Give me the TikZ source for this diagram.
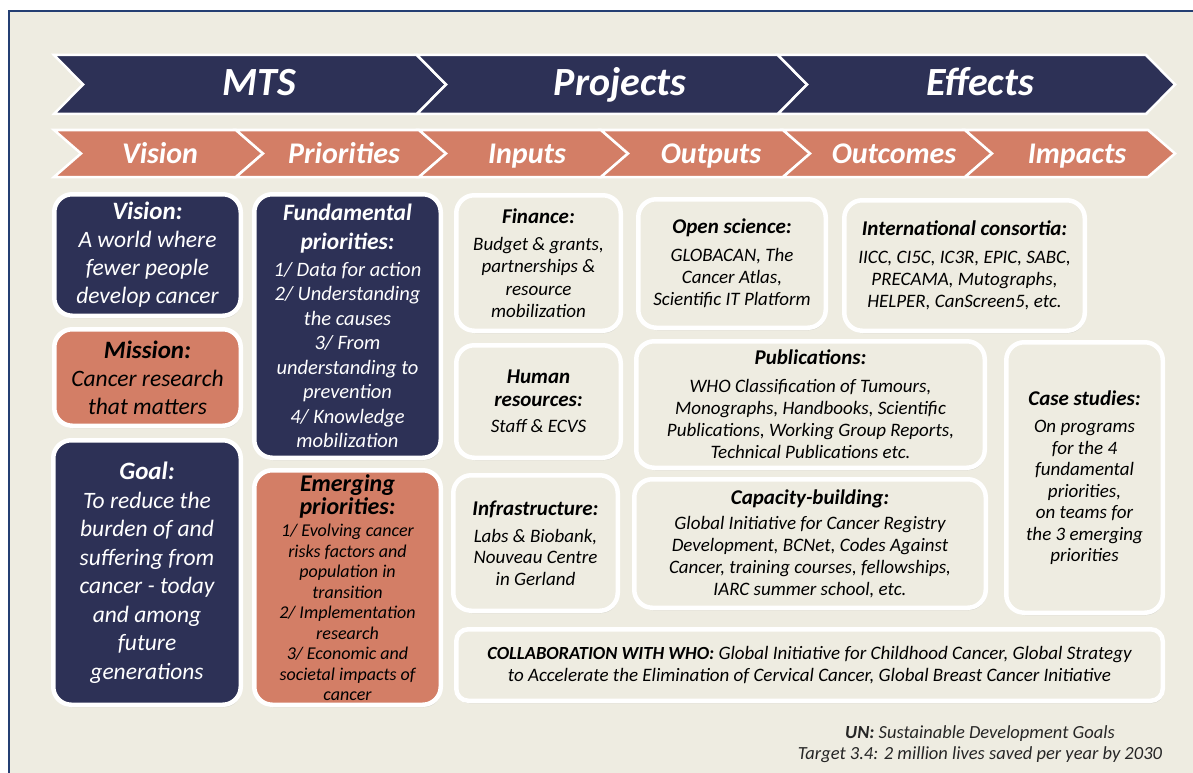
\documentclass[tikz,border=0pt]{standalone}
\usepackage{fontspec}
\setmainfont{Carlito}
\usetikzlibrary{shadows}
\definecolor{navy}{HTML}{2D3156}
\definecolor{coral}{HTML}{D37E66}
\definecolor{beige}{HTML}{EEECE1}
\definecolor{framecol}{HTML}{243F73}
\newcommand\myfs[2]{\fontsize{#1}{#2}\selectfont}
\newcommand\mychev[6]{%
  \filldraw[fill=#6, draw=white, line width=2.5pt, line join=miter]
    (#1,#4) -- (#2,#4) -- ({#2+#3},{(#4+#5)/2}) -- (#2,#5) -- (#1,#5) -- ({#1+#3},{(#4+#5)/2}) -- cycle;}
\tikzset{
  dtitle/.style={text=white, anchor=base, font=\bfseries\itshape\myfs{40}{44}},
  otitle/.style={text=white, anchor=base, font=\bfseries\itshape\myfs{30}{34}},
  box/.style={rounded corners=18pt, draw=white, line width=4.5pt, align=center, inner sep=0pt,
    drop shadow={opacity=0.22, shadow xshift=1pt, shadow yshift=-2.5pt}},
  navybox/.style={box, fill=navy, text=white},
  coralbox/.style={box, fill=coral, text=black},
  plainbox/.style={box, fill=beige, text=black}
}
\begin{document}
\begin{tikzpicture}[x=1pt,y=-1pt]
\useasboundingbox (0,0) rectangle (1193,773);
\fill[white] (0,0) rectangle (1193,773);
\fill[beige] (9,11) rectangle (1193,773);
\draw[framecol, line width=2pt] (9,773) -- (9,11) -- (1193,11);

% dark chevrons
\mychev{54}{417}{29}{55}{114}{navy}
\mychev{417}{778}{29}{55}{114}{navy}
\mychev{778}{1146}{29}{55}{114}{navy}
\node[dtitle] (mts) at (259,96) {MTS};
\node[dtitle] (projects) at (620,96) {Projects};
\node[dtitle] (effects) at (980,96) {Effects};

% coral chevrons
\mychev{54}{236}{27}{130}{177}{coral}
\mychev{236}{419}{27}{130}{177}{coral}
\mychev{419}{601}{27}{130}{177}{coral}
\mychev{601}{783}{27}{130}{177}{coral}
\mychev{783}{965}{27}{130}{177}{coral}
\mychev{965}{1148}{27}{130}{177}{coral}
\node[otitle] (tvision) at (160,163) {Vision};
\node[otitle] (tprio) at (344,163) {Priorities};
\node[otitle] (tinputs) at (527,163) {Inputs};
\node[otitle] (toutputs) at (711,163) {Outputs};
\node[otitle] (toutcomes) at (894,163) {Outcomes};
\node[otitle] (timpacts) at (1077,163) {Impacts};

% left column
\node[navybox, minimum width=186.5, minimum height=121.5, font=\itshape\myfs{23.5}{28}] (vision) at (147.5,255)
  {{\bfseries\myfs{25}{28}Vision:}\\ A world where\\ fewer people\\ develop cancer};
\node[coralbox, minimum width=186.5, minimum height=96.5, font=\itshape\myfs{23.5}{28}] (mission) at (147.5,377.5)
  {{\bfseries\myfs{25}{28}Mission:}\\ Cancer research\\ that matters};
\node[navybox, minimum width=187.5, minimum height=264.5, font=\itshape\myfs{23.5}{28.5}] (goal) at (147,572.5)
  {{\bfseries\myfs{25}{28.5}Goal:}\\ To reduce the\\ burden of and\\ suffering from\\ cancer - today\\ and among\\ future\\ generations};
\node[navybox, minimum width=186.5, minimum height=263.5, font=\itshape\myfs{20.5}{24.5}] (fund) at (347.5,326)
  {{\bfseries\myfs{23.5}{24.5}Fundamental}\\[5pt] {\bfseries\myfs{23.5}{24.5}priorities:}\\[2pt] 1/ Data for action\\ 2/ Understanding\\ the causes\\ 3/ From\\ understanding to\\ prevention\\ 4/ Knowledge\\ mobilization};
\node[coralbox, minimum width=186.5, minimum height=234.5, font=\itshape\myfs{18}{20.5}] (emerg) at (347.5,587.5)
  {{\bfseries\myfs{24}{20.5}Emerging}\\[1.5pt] {\bfseries\myfs{24}{20.5}priorities:}\\[1.5pt] 1/ Evolving cancer\\ risks factors and\\ population in\\ transition\\ 2/ Implementation\\ research\\ 3/ Economic and\\ societal impacts of\\ cancer};

% middle / right
\node[plainbox, minimum width=164.5, minimum height=135.5, font=\itshape\myfs{19}{22.3}] (finance) at (538.5,263)
  {{\bfseries\myfs{21}{22.3}Finance:}\\[5pt] Budget \& grants,\\ partnerships \&\\ resource\\ mobilization};
\node[plainbox, minimum width=187.5, minimum height=128.5, font=\itshape\myfs{19}{22.3}] (open) at (732,263.5)
  {{\bfseries\myfs{21}{22.3}Open science:}\\[5pt] GLOBACAN, The\\ Cancer Atlas,\\ Scientific IT Platform};
\node[plainbox, minimum width=240.5, minimum height=130.5, font=\itshape\myfs{19}{22.3}] (intl) at (964.5,265.5)
  {{\bfseries\myfs{21}{22.3}International consortia:}\\[5pt] IICC, CI5C, IC3R, EPIC, SABC,\\ PRECAMA, Mutographs,\\ HELPER, CanScreen5, etc.};
\node[plainbox, minimum width=164.5, minimum height=112.5, font=\itshape\myfs{19}{22.3}] (human) at (538.5,401.5)
  {{\bfseries\myfs{21}{22.3}Human}\\ {\bfseries\myfs{21}{22.3}resources:}\\[4pt] Staff \& ECVS};
\node[plainbox, minimum width=348.5, minimum height=126.5, font=\itshape\myfs{19}{22.3}] (pubs) at (810.5,404.5)
  {{\bfseries\myfs{21}{22.3}Publications:}\\[5pt] WHO Classification of Tumours,\\ Monographs, Handbooks, Scientific\\ Publications, Working Group Reports,\\ Technical Publications etc.};
\node[plainbox, minimum width=156.5, minimum height=270.5, font=\itshape\myfs{19}{21.5}] (case) at (1084.5,477.5)
  {{\bfseries\myfs{21}{21.5}Case studies:}\\[6pt] On programs\\ for the 4\\ fundamental\\ priorities,\\ on teams for\\ the 3 emerging\\ priorities};
\node[plainbox, minimum width=164.5, minimum height=135.5, font=\itshape\myfs{19}{21.3}] (infra) at (535.5,543)
  {{\bfseries\myfs{21}{21.3}Infrastructure:}\\[6pt] Labs \& Biobank,\\ Nouveau Centre\\ in Gerland};
\node[plainbox, minimum width=351.5, minimum height=128.5, font=\itshape\myfs{19}{21.7}] (cap) at (810,543.5)
  {{\bfseries\myfs{21}{21.7}Capacity-building:}\\[4pt] Global Initiative for Cancer Registry\\ Development, BCNet, Codes Against\\ Cancer, training courses, fellowships,\\ IARC summer school, etc.};
\node[plainbox, rounded corners=12pt, minimum width=706.5, minimum height=71.5, font=\itshape\myfs{19}{22.6}] (collab) at (809.5,665)
  {{\bfseries\myfs{18.5}{22.6}COLLABORATION WITH WHO:} Global Initiative for Childhood Cancer, Global Strategy\\ to Accelerate the Elimination of Cervical Cancer, Global Breast Cancer Initiative};

\node[align=center, font=\itshape\myfs{18.5}{21.5}, text=black!85] (un) at (980,744)
  {{\bfseries UN:} Sustainable Development Goals\\ Target 3.4: 2 million lives saved per year by 2030};
\end{tikzpicture}
\end{document}
